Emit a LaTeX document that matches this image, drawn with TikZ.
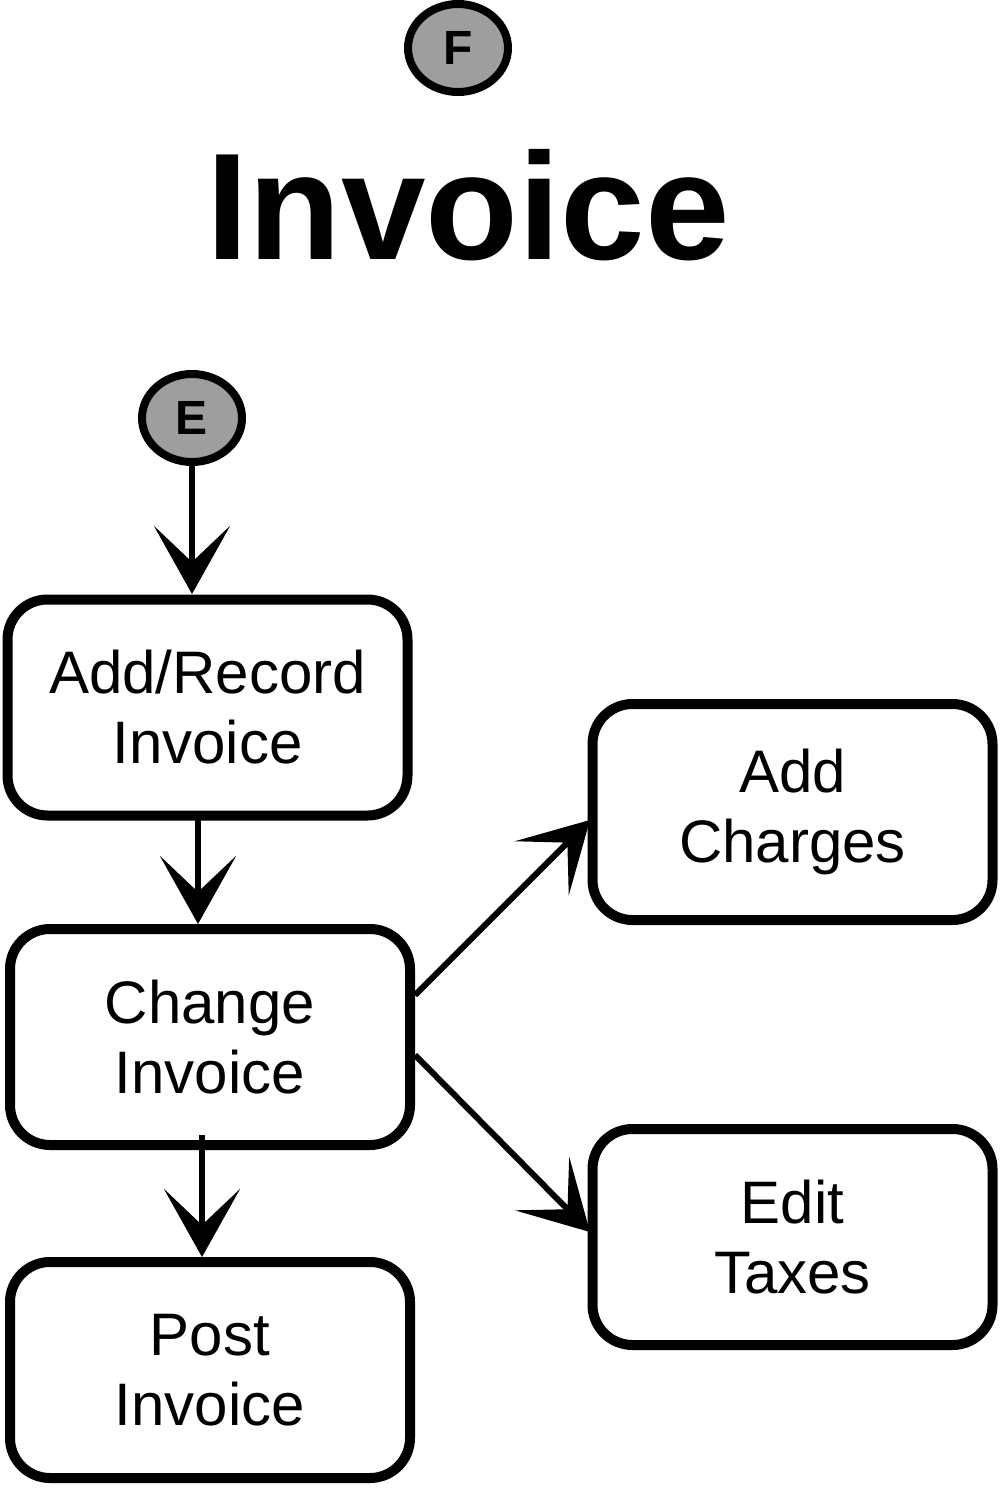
\documentclass[tikz,border=0pt]{standalone}
\usepackage{fontspec}
\setmainfont{Liberation Sans}
\usetikzlibrary{arrows.meta,shapes.geometric}
\begin{document}
\begin{tikzpicture}[x=0.5pt,y=-0.5pt,
  bx/.style={draw,line width=5pt,rounded corners=20pt,minimum width=200pt,minimum height=108pt,align=center,font=\fontsize{30}{35}\selectfont,inner sep=0pt},
  circ/.style={draw,ellipse,line width=4pt,fill=black!38,minimum width=50pt,minimum height=44pt,inner sep=0pt,font=\fontsize{24}{24}\selectfont\bfseries},
  arr/.style={line width=3pt,-{Stealth[length=34pt,width=38pt,inset=18pt]}}]
\useasboundingbox (0,0) rectangle (1000,1488);
\node[circ] (F) at (458,48) {F};
\node[font=\fontsize{76}{76}\selectfont\bfseries] (T) at (468,205) {Invoice};
\node[circ] (E) at (192,418) {E};
\node[bx] (a) at (207.5,707.5) {Add/Record\\Invoice};
\node[bx] (c) at (210,1037) {Change\\Invoice};
\node[bx] (p) at (210,1370) {Post\\Invoice};
\node[bx] (ch) at (792.5,812) {Add\\Charges};
\node[bx] (t) at (792.5,1237) {Edit\\Taxes};
\draw[arr] (E.south) -- (192,594);
\draw[arr] (198,820) -- (198,924);
\draw[arr] (202,1135) -- (202,1257);
\draw[arr] (415,995) -- (590,820);
\draw[arr] (415,1055) -- (590,1232);
\end{tikzpicture}
\end{document}
